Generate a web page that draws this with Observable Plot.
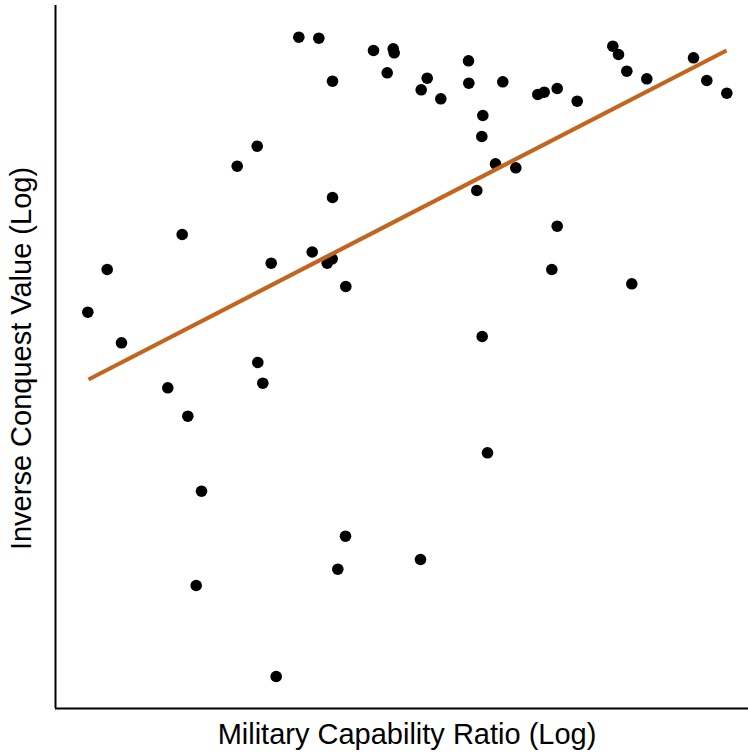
<!DOCTYPE html>
<html>
<head>
<meta charset="utf-8">
<script src="https://cdn.jsdelivr.net/npm/d3@7"></script>
<script src="https://cdn.jsdelivr.net/npm/@observablehq/plot@0.6"></script>
<style>
  html, body { margin: 0; padding: 0; background: #fff; }
  #chart svg { display: block; }
</style>
</head>
<body>
<div id="chart"></div>
<script>
// Military capability ratio (log, arbitrary units) and inverse conquest value (log, arbitrary units)
const capabilityRatio = [
  87.3, 106.7, 121.0, 167.3, 181.7, 187.3, 195.7, 201.0, 236.7, 256.7,
  257.3, 262.3, 270.7, 275.7, 298.3, 311.7, 318.3, 326.7, 331.7, 332.0,
  332.0, 337.3, 345.0, 345.3, 373.0, 386.7, 392.7, 393.7, 420.0, 420.7,
  426.7, 440.3, 468.0, 468.3, 476.3, 481.3, 481.7, 482.3, 487.0, 495.0,
  502.3, 515.3, 537.3, 543.7, 551.3, 556.7, 556.7, 576.7, 612.3, 618.0,
  626.3, 631.3, 646.3, 693.0, 706.3, 726.3
];
const inverseConquestValue = [
  443.3, 486.0, 412.7, 367.7, 521.0, 339.3, 170.0, 264.3, 589.3, 609.3,
  393.0, 372.3, 492.3, 79.0, 718.3, 503.5, 717.3, 492.3, 496.7, 674.3,
  558.0, 186.3, 219.3, 469.0, 705.0, 682.7, 706.7, 702.7, 196.0, 665.7,
  677.3, 656.7, 694.7, 672.3, 565.0, 619.0, 419.0, 640.0, 302.7, 591.7,
  673.7, 587.7, 661.0, 663.3, 486.0, 667.0, 529.3, 654.3, 709.3, 701.0,
  684.3, 471.7, 676.7, 697.7, 675.0, 662.3
];
// Fitted trend line end points
const fitX = [88, 726];
const fitY = [376, 705];

const xLabel = "Military Capability Ratio (Log)";
const yLabel = "Inverse Conquest Value (Log)";

const points = capabilityRatio.map((x, i) => ({x, y: inverseConquestValue[i]}));
const fit = fitX.map((x, i) => ({x, y: fitY[i]}));

const xDomain = [55, 748];
const yDomain = [47, 750];

const chart = Plot.plot({
  width: 748,
  height: 755,
  marginLeft: 55,
  marginRight: 0,
  marginTop: 5,
  marginBottom: 47,
  x: {domain: xDomain, axis: null},
  y: {domain: yDomain, axis: null},
  style: {fontFamily: "'Liberation Sans', Arial, sans-serif", background: "#fff", overflow: "visible"},
  marks: [
    Plot.ruleX([xDomain[0]], {y1: yDomain[0], y2: yDomain[1], stroke: "#000", strokeWidth: 2}),
    Plot.ruleY([yDomain[0]], {x1: xDomain[0], x2: xDomain[1], stroke: "#000", strokeWidth: 2}),
    Plot.dot(points, {x: "x", y: "y", r: 5.8, fill: "#000", stroke: "none"}),
    Plot.line(fit, {x: "x", y: "y", stroke: "#C4651F", strokeWidth: 4.2, strokeLinecap: "butt"}),
    Plot.text([xLabel], {text: d => d, frameAnchor: "bottom", textAnchor: "middle", lineAnchor: "bottom", dy: 35, dx: 5, fontSize: 29, fill: "#000"}),
    Plot.text([yLabel], {text: d => d, frameAnchor: "left", textAnchor: "middle", lineAnchor: "bottom", rotate: -90, dx: -25, dy: 1.5, fontSize: 29, fill: "#000"})
  ]
});
document.getElementById("chart").appendChild(chart);
</script>
</body>
</html>
